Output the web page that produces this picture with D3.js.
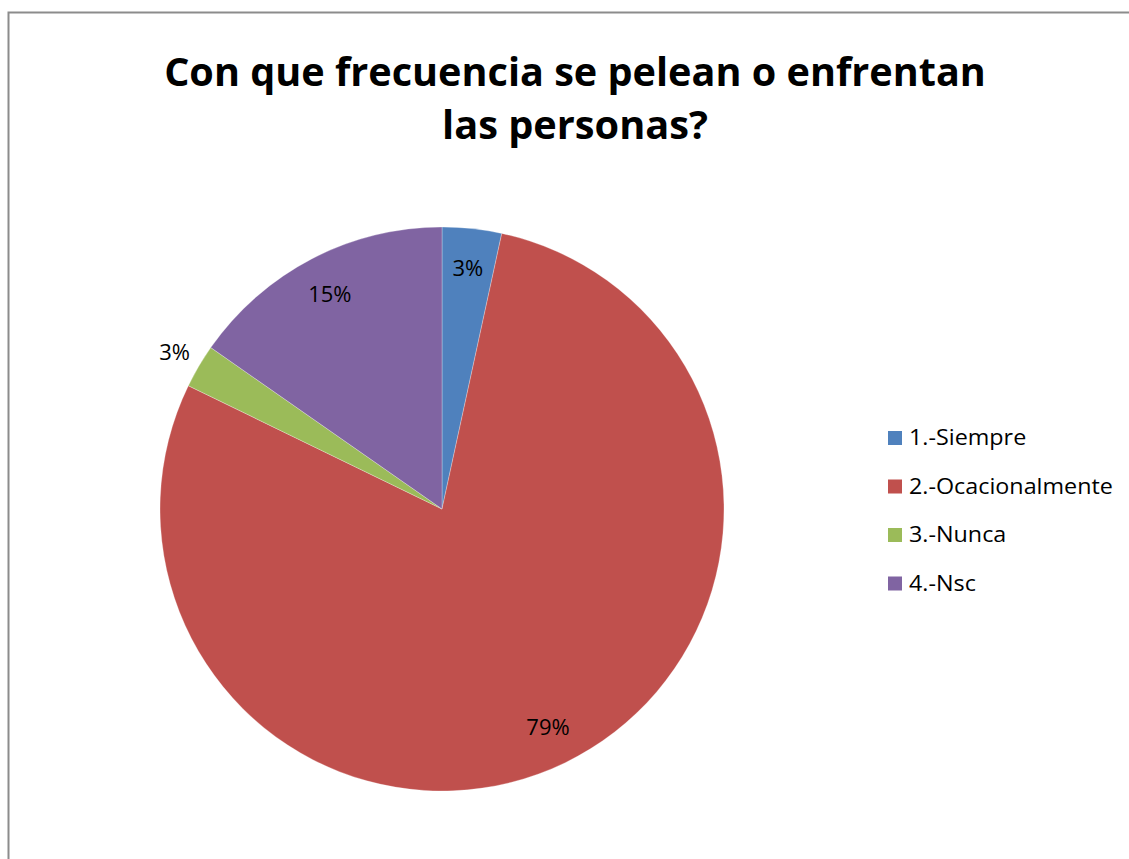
<!DOCTYPE html>
<html>
<head>
<meta charset="utf-8">
<script src="https://cdn.jsdelivr.net/npm/d3@7"></script>
<style>
  body { margin: 0; background: #fff; }
  text { font-family: "Open Sans", "Noto Sans", sans-serif; }
</style>
</head>
<body>
<div id="graph"></div>
<script>
const categories = ["1.-Siempre", "2.-Ocacionalmente", "3.-Nunca", "4.-Nsc"]
const values = [3.4, 78.8, 2.5, 15.3]
const colors = ["#4F81BD", "#C0504D", "#9BBB59", "#8064A2"]
const titleLines = ["Con que frecuencia se pelean o enfrentan", "las personas?"]

const width = 1129
const height = 859
const cx = 442
const cy = 509
const radius = 282

const svg = d3.select("#graph").append("svg")
    .attr("width", width)
    .attr("height", height)

// Frame (only left and top edges visible)
svg.append("path")
    .attr("d", `M8.5,${height} L8.5,12.5 L${width},12.5`)
    .attr("fill", "none")
    .attr("stroke", "#8c8c8c")
    .attr("stroke-width", 2)

// Title, squeezed a little to match the narrow original face
const titleWidths = [822, 266]
titleLines.forEach((line, i) => {
    const t = svg.append("text")
        .attr("text-anchor", "middle")
        .attr("font-weight", "bold")
        .attr("font-size", 40)
        .attr("fill", "#000")
        .text(line)
    const w = t.node().getComputedTextLength()
    t.attr("transform", `translate(575,${86 + i * 53}) scale(${titleWidths[i] / w},1)`)
})

// Pie
const total = d3.sum(values)
const pie = d3.pie().sort(null).value(d => d)
const arcs = pie(values)
const arc = d3.arc().innerRadius(0).outerRadius(radius)

const g = svg.append("g").attr("transform", `translate(${cx},${cy})`)

g.selectAll("path")
    .data(arcs)
    .join("path")
    .attr("d", arc)
    .attr("fill", (d, i) => colors[i])
    .attr("stroke", "rgba(255,255,255,0.35)")
    .attr("stroke-width", 0.8)

// Data labels
g.selectAll("text")
    .data(arcs)
    .join("text")
    .attr("text-anchor", "middle")
    .attr("dy", "0.35em")
    .attr("font-size", 22)
    .attr("fill", "#000")
    .attr("transform", d => {
        const a = (d.startAngle + d.endAngle) / 2
        const narrow = (d.endAngle - d.startAngle) < 0.17
        const r = narrow ? radius * 1.1 : radius * 0.86
        return `translate(${Math.sin(a) * r},${-Math.cos(a) * r})`
    })
    .text(d => Math.round(d.value / total * 100) + "%")

// Legend
const legend = svg.append("g")
    .attr("transform", "translate(888,438)")

const rows = legend.selectAll("g")
    .data(categories)
    .join("g")
    .attr("transform", (d, i) => `translate(0,${i * 48.5})`)

rows.append("rect")
    .attr("x", 0)
    .attr("y", -7)
    .attr("width", 14)
    .attr("height", 14)
    .attr("fill", (d, i) => colors[i])

const legendText = rows.append("text")
    .attr("dy", "0.35em")
    .attr("font-size", 21)
    .attr("fill", "#000")
    .text(d => d)

// stretch so the longest entry spans the same width as the original
const longest = d3.max(legendText.nodes(), n => n.getComputedTextLength())
legendText.attr("transform", `translate(21,0) scale(${204 / longest},1)`)
</script>
</body>
</html>
